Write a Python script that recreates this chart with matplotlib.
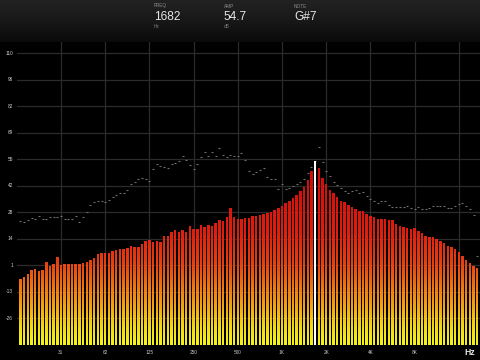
import numpy as np
import matplotlib
matplotlib.use('Agg')
from matplotlib import pyplot as plt
from matplotlib.colors import LinearSegmentedColormap
from matplotlib.collections import PolyCollection
from matplotlib.transforms import blended_transform_factory

plt.rcParams['font.family'] = ['Liberation Sans', 'DejaVu Sans']

# level of each 1/12-octave band (dB)
level_db = [
    -6.3, -5.1, -3.9, -1.7, -1.3, -2.0, -1.7, 2.4, 0.4, 1.6,
    5.0, 1.0, 1.3, 1.4, 1.4, 1.3, 1.4, 1.8, 2.6, 3.6,
    4.5, 6.4, 7.2, 7.2, 6.9, 8.1, 8.8, 9.1, 9.3, 9.8,
    10.5, 10.2, 10.2, 11.9, 13.2, 13.6, 12.6, 13.2, 12.9, 15.8,
    15.7, 18.0, 18.9, 17.7, 18.9, 17.7, 21.1, 19.3, 19.3, 21.5,
    20.6, 21.5, 21.0, 22.7, 24.1, 23.7, 25.8, 30.4, 25.8, 24.7,
    24.7, 24.9, 24.9, 26.1, 26.1, 26.6, 27.1, 27.8, 28.3, 29.2,
    30.4, 31.3, 32.6, 33.8, 35.2, 36.9, 39.0, 41.2, 44.6, 49.4,
    54.7, 51.0, 45.8, 42.6, 39.5, 37.8, 35.9, 33.8, 33.1, 32.0,
    30.9, 29.5, 28.7, 28.5, 27.1, 26.1, 25.4, 24.7, 24.6, 24.6,
    24.1, 24.1, 22.0, 21.0, 20.6, 19.8, 19.3, 19.8, 18.4, 17.5,
    16.0, 15.5, 15.1, 14.3, 13.2, 12.1, 10.8, 10.0, 9.0, 7.7,
    5.5, 3.5, 1.8, 0.4, -0.8,
]

# peak hold per band (dB)
peak_db = [
    23.5, 22.9, 24.1, 25.2, 24.7, 26.3, 24.4, 24.7, 25.4, 25.8,
    25.8, 26.1, 24.7, 24.7, 24.4, 26.1, 22.9, 25.4, 28.0, 31.6,
    33.5, 34.0, 34.0, 33.3, 34.3, 35.7, 37.1, 37.8, 38.1, 39.5,
    42.6, 43.8, 45.0, 45.8, 45.0, 44.4, 50.3, 52.9, 51.8, 51.3,
    50.6, 53.0, 53.4, 54.3, 57.1, 55.2, 52.6, 50.3, 53.0, 56.3,
    59.2, 57.0, 59.0, 57.2, 61.0, 57.5, 56.3, 57.5, 57.0, 57.0,
    58.8, 54.9, 49.3, 47.7, 49.0, 50.0, 50.6, 46.3, 45.0, 45.0,
    40.0, 42.4, 39.9, 40.4, 41.4, 42.4, 43.4, 45.0, 48.1, 51.5,
    54.7, 61.5, 53.7, 49.1, 46.6, 43.6, 42.3, 40.5, 39.1, 37.8,
    39.1, 39.5, 38.1, 38.6, 36.6, 34.7, 33.8, 32.6, 33.8, 34.0,
    31.8, 30.6, 30.6, 30.6, 30.9, 31.3, 30.4, 29.6, 30.9, 29.7,
    29.6, 30.4, 31.3, 31.3, 31.3, 31.3, 30.4, 30.4, 31.3, 32.3,
    32.6, 31.3, 29.7, 26.6, 5.5,
]

active_band = 80  # the selected band (drawn white)
band_hz = 31.25 * 2 ** ((np.arange(len(level_db)) - 11) / 12)

tick_hz = [31.25, 62.5, 125, 250, 500, 1000, 2000, 4000, 8000, 16000]
tick_labels = ['31', '62', '125', '250', '500', '1K', '2K', '4K', '8K', '']
db_ticks = np.linspace(110, -40, 12)[:-1]
db_labels = ['110', '96', '82', '69', '55', '42', '28', '14', '1', '-13', '-26']

header = {'FREQ': ('1682', 'Hz'), 'AMP': ('54.7', 'dB'), 'NOTE': ('G#7', '')}
header_x = [154, 224, 294]

W, H = 480, 360
fig = plt.figure(figsize=(4.8, 3.6), dpi=100, facecolor='black')

# main spectrum axes
ax = fig.add_axes([17 / W, 15.5 / H, 463 / W, 302.5 / H])
ax.set_facecolor('black')
x = np.log2(band_hz)
x_lo, x_hi = np.log2(31.25) - 44 / 44.2, np.log2(31.25) + 419 / 44.2
for s in ax.spines.values():
    s.set_visible(False)
ax.set_xticks([])
ax.set_yticks([])

for d in db_ticks:
    ax.axhline(d, color='#2b2b2b', lw=0.9, zorder=0)
for f in tick_hz:
    ax.axvline(np.log2(f), color='#2b2b2b', lw=0.9, zorder=0)

# bars: gradient from yellow (floor) to red, colour tied to absolute level,
# built from overlapping horizontal slices so the gaps between bars stay sharp
cmap = LinearSegmentedColormap.from_list('spec', [
    (0.0, '#f4f41e'), (0.10, '#f2d614'), (0.21, '#f2a212'), (0.32, '#ee7010'),
    (0.45, '#e63c10'), (0.60, '#e01e0e'), (0.75, '#d8140c'), (1.0, '#cc0c0a')])
floor, top = -40, 56
w = 0.67 / 12
verts, cols = [], []
for i, (xi, lv) in enumerate(zip(x, level_db)):
    if i == active_band:
        continue
    edges = np.append(np.arange(floor, lv, 1.0), lv)
    for y0, y1 in zip(edges[:-1], edges[1:]):
        y1d = min(y1 + 0.6, lv)
        verts.append([(xi - w / 2, y0), (xi + w / 2, y0),
                      (xi + w / 2, y1d), (xi - w / 2, y1d)])
        cols.append(cmap(((y0 + y1) / 2 - floor) / (top - floor)))
ax.add_collection(PolyCollection(verts, facecolors=cols, edgecolors='none',
                                 zorder=2))
ax.bar(x[active_band], level_db[active_band] - floor, bottom=floor, width=w,
       color='white', zorder=3)

ax.plot(x, peak_db, ls='none', marker='_', ms=1.9, mew=0.8,
        color='#707070', zorder=1.5)

ax.set_xlim(x_lo, x_hi)
ax.set_ylim(-40, 115.7)

# axis labels
tx = blended_transform_factory(ax.transData, ax.transAxes)
for f, lab in zip(tick_hz, tick_labels):
    ax.text(np.log2(f), -0.026, lab, transform=tx, ha='center', va='center',
            fontsize=3.4, color='#c8c8c8', clip_on=False)
ax.text(1 - 10 / 463, -0.026, 'Hz', transform=ax.transAxes, ha='center',
        va='center', fontsize=6.2, fontweight='bold', color='#e8e8e8')
ty = blended_transform_factory(ax.transAxes, ax.transData)
for d, lab in zip(db_ticks, db_labels):
    ax.text(-4 / 463, d, lab, transform=ty, ha='right', va='center',
            fontsize=3.4, color='#d0d0d0', clip_on=False)

# header bar
hd = fig.add_axes([0, 1 - 42 / H, 1, 42 / H])
hd.set_xlim(0, W)
hd.set_ylim(42, 0)
hd.axis('off')
hcmap = LinearSegmentedColormap.from_list('hdr', ['#222222', '#181818', '#0a0a0a'])
hd.imshow(np.linspace(0, 1, 64).reshape(-1, 1), cmap=hcmap, aspect='auto',
          extent=[0, W, 42, 0])
for hx, (name, (val, unit)) in zip(header_x, header.items()):
    hd.text(hx, 6, name, fontsize=3.4, color='#8a8a8a', ha='left', va='center')
    hd.text(hx, 16.5, val, fontsize=8.6, color='#e6e6e6', ha='left', va='center')
    hd.text(hx, 26.5, unit, fontsize=3.4, color='#7a7a7a', ha='left', va='center')

fig.savefig('out.png', dpi=100, facecolor='black')
